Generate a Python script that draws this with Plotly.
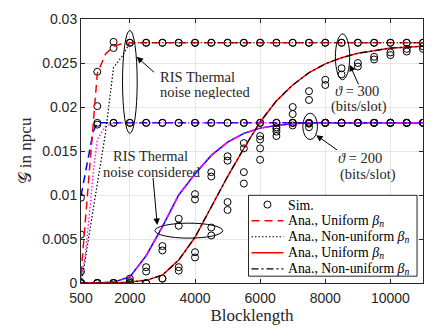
import plotly.graph_objects as go

# ---------------- data ----------------
blocklength = [500, 1000, 1500, 2000, 2500, 3000, 3500, 4000, 4500, 5000, 5500,
               6000, 6500, 7000, 7500, 8000, 8500, 9000, 9500, 10000, 10500, 11000]

# finer grid for the "thermal noise neglected" analytical curves
blocklength_fine = [500, 625, 750, 875, 1000, 1250, 1500, 1750, 2000, 2500, 3000, 3500,
                    4000, 4500, 5000, 5500, 6000, 6500, 7000, 7500, 8000, 8500, 9000,
                    9500, 10000, 10500, 11000]

# Analytical, RIS thermal noise neglected
ana_neg_300_uni = [0.0010, 0.0068, 0.0125, 0.0182, 0.0238, 0.0260, 0.0269, 0.0272, 0.0273,
                   0.0273, 0.0273, 0.0273, 0.0273, 0.0273, 0.0273, 0.0273, 0.0273, 0.0273,
                   0.0273, 0.0273, 0.0273, 0.0273, 0.0273, 0.0273, 0.0273, 0.0273, 0.0273]
ana_neg_300_non = [0.0000, 0.0025, 0.0055, 0.0085, 0.0112, 0.0170, 0.0245, 0.0257, 0.0273,
                   0.0273, 0.0273, 0.0273, 0.0273, 0.0273, 0.0273, 0.0273, 0.0273, 0.0273,
                   0.0273, 0.0273, 0.0273, 0.0273, 0.0273, 0.0273, 0.0273, 0.0273, 0.0273]
ana_neg_200_uni = [0.0099, 0.0122, 0.0146, 0.0172, 0.0182, 0.0182, 0.0182, 0.0182, 0.0182,
                   0.0182, 0.0182, 0.0182, 0.0182, 0.0182, 0.0182, 0.0182, 0.0182, 0.0182,
                   0.0182, 0.0182, 0.0182, 0.0182, 0.0182, 0.0182, 0.0182, 0.0182, 0.0182]
ana_neg_200_non = [0.0006, 0.0030, 0.0075, 0.0125, 0.0163, 0.0178, 0.0182, 0.0182, 0.0182,
                   0.0182, 0.0182, 0.0182, 0.0182, 0.0182, 0.0182, 0.0182, 0.0182, 0.0182,
                   0.0182, 0.0182, 0.0182, 0.0182, 0.0182, 0.0182, 0.0182, 0.0182, 0.0182]

# Analytical, RIS thermal noise considered
ana_con_300_uni = [0.0, 0.0, 0.0, 0.0001, 0.0003, 0.0009, 0.0026, 0.0052, 0.0087, 0.0121, 0.0153,
                   0.0183, 0.0207, 0.0225, 0.0239, 0.0249, 0.0256, 0.0261, 0.0264, 0.0267, 0.0268, 0.0269]
ana_con_300_non = [0.0, 0.0, 0.0, 0.0001, 0.0003, 0.0009, 0.0026, 0.0052, 0.0087, 0.0121, 0.0153,
                   0.0183, 0.0207, 0.0225, 0.0239, 0.0249, 0.0256, 0.0261, 0.0264, 0.0267, 0.0268, 0.0269]
ana_con_200_uni = [0.0, 0.0, 0.0001, 0.0007, 0.0031, 0.0064, 0.0100, 0.0124, 0.0145, 0.0160, 0.0170,
                   0.0176, 0.0179, 0.0181, 0.0182, 0.0182, 0.0182, 0.0182, 0.0182, 0.0182, 0.0182, 0.0182]
ana_con_200_non = [0.0, 0.0, 0.0001, 0.0007, 0.0031, 0.0064, 0.0100, 0.0124, 0.0145, 0.0160, 0.0170,
                   0.0176, 0.0179, 0.0181, 0.0182, 0.0182, 0.0182, 0.0182, 0.0182, 0.0182, 0.0182, 0.0182]

# Simulation points
sim_neg_300_uni = [0.0055, 0.0240, 0.0274, 0.0273, 0.0273, 0.0273, 0.0273, 0.0273, 0.0273, 0.0273, 0.0273,
                   0.0273, 0.0273, 0.0273, 0.0273, 0.0273, 0.0273, 0.0273, 0.0273, 0.0273, 0.0273, 0.0273]
sim_neg_300_non = [0.0000, 0.0201, 0.0267, 0.0273, 0.0273, 0.0273, 0.0273, 0.0273, 0.0273, 0.0273, 0.0273,
                   0.0273, 0.0273, 0.0273, 0.0273, 0.0273, 0.0273, 0.0273, 0.0273, 0.0273, 0.0273, 0.0273]
sim_neg_200_uni = [0.0097, 0.0182, 0.0182, 0.0182, 0.0182, 0.0182, 0.0182, 0.0182, 0.0182, 0.0182, 0.0182,
                   0.0182, 0.0182, 0.0182, 0.0182, 0.0182, 0.0182, 0.0182, 0.0182, 0.0182, 0.0182, 0.0182]
sim_neg_200_non = [0.0013, 0.0180, 0.0182, 0.0182, 0.0182, 0.0182, 0.0182, 0.0182, 0.0182, 0.0182, 0.0182,
                   0.0182, 0.0182, 0.0182, 0.0182, 0.0182, 0.0182, 0.0182, 0.0182, 0.0182, 0.0182, 0.0182]
sim_con_200_uni = [0.0, 0.0, 0.0, 0.0005, 0.0018, 0.0042, 0.0073, 0.0101, 0.0126, 0.0144, 0.0159,
                   0.0167, 0.0177, 0.0182, 0.0181, 0.0182, 0.0182, 0.0182, 0.0182, 0.0182, 0.0182, 0.0182]
sim_con_200_non = [0.0, 0.0, 0.0, 0.0002, 0.0013, 0.0037, 0.0065, 0.0095, 0.0121, 0.0139, 0.0153,
                   0.0163, 0.0175, 0.0179, 0.0177, 0.0182, 0.0182, 0.0182, 0.0182, 0.0182, 0.0182, 0.0182]
sim_con_300_uni = [0.0, 0.0, 0.0, 0.0, 0.0, 0.0005, 0.0018, 0.0035, 0.0063, 0.0092, 0.0126,
                   0.0153, 0.0172, 0.0200, 0.0218, 0.0231, 0.0244, 0.0250, 0.0257, 0.0262, 0.0266, 0.0269]
sim_con_300_non = [0.0, 0.0, 0.0, 0.0, 0.0, 0.0005, 0.0014, 0.0029, 0.0054, 0.0083, 0.0113,
                   0.0140, 0.0167, 0.0192, 0.0208, 0.0225, 0.0237, 0.0246, 0.0254, 0.0259, 0.0263, 0.0266]

x_ticks = [500, 2000, 4000, 6000, 8000, 10000]
y_ticks = [0, 0.005, 0.01, 0.015, 0.02, 0.025, 0.03]
y_tick_labels = ["0", "0.005", "0.01", "0.015", "0.02", "0.025", "0.03"]

legend_labels = ["Sim.",
                 "Ana., Uniform <i>β</i><sub><i>n</i></sub>",
                 "Ana., Non-uniform <i>β</i><sub><i>n</i></sub>",
                 "Ana., Uniform <i>β</i><sub><i>n</i></sub>",
                 "Ana., Non-uniform <i>β</i><sub><i>n</i></sub>"]

SERIF = "Liberation Serif"
SANS = "Liberation Sans"
TXT = "#262626"

# layout geometry (pixels)
W, H = 435, 329
ML, MR, MT, MB = 81, 11, 12, 46
PW, PH = W - ML - MR, H - MT - MB

def px(xp):
    return (xp - ML) / PW

def py(yp):
    return (H - MB - yp) / PH

fig = go.Figure()

sims = [sim_neg_300_uni, sim_neg_300_non, sim_neg_200_uni, sim_neg_200_non,
        sim_con_200_uni, sim_con_200_non, sim_con_300_uni, sim_con_300_non]

styles = {
    "blue_dash": dict(color="#0000ff", width=1.5, dash="8px,5px"),
    "mag_dot": dict(color="#ff00ff", width=1.3, dash="1.5px,2px"),
    "blue_solid": dict(color="#0000ff", width=1.5),
    "mag_dashdot": dict(color="#ff00ff", width=1.5, dash="7px,3px,2px,3px"),
    "red_dash": dict(color="#ff0000", width=1.5, dash="8px,5px"),
    "black_dot": dict(color="black", width=1.2, dash="1.5px,2px"),
    "red_solid": dict(color="#ff0000", width=1.5),
    "black_dashdot": dict(color="black", width=1.2, dash="7px,3px,2px,3px"),
}

# ϑ = 200 curves
fig.add_trace(go.Scatter(x=blocklength_fine, y=ana_neg_200_uni, mode="lines", line=styles["blue_dash"]))
fig.add_trace(go.Scatter(x=blocklength_fine, y=ana_neg_200_non, mode="lines", line=styles["mag_dot"]))
fig.add_trace(go.Scatter(x=blocklength, y=ana_con_200_uni, mode="lines", line=styles["blue_solid"]))
fig.add_trace(go.Scatter(x=blocklength, y=ana_con_200_non, mode="lines", line=styles["mag_dashdot"]))

for s in sims:
    fig.add_trace(go.Scatter(x=blocklength, y=s, mode="markers", name="Sim.",
                             marker=dict(symbol="circle-open", size=7, color="black",
                                         line=dict(width=1, color="black"))))

# ϑ = 300 curves
fig.add_trace(go.Scatter(x=blocklength_fine, y=ana_neg_300_uni, mode="lines", line=styles["red_dash"],
                         name=legend_labels[1]))
fig.add_trace(go.Scatter(x=blocklength_fine, y=ana_neg_300_non, mode="lines", line=styles["black_dot"],
                         name=legend_labels[2]))
fig.add_trace(go.Scatter(x=blocklength, y=ana_con_300_uni, mode="lines", line=styles["red_solid"],
                         name=legend_labels[3]))
fig.add_trace(go.Scatter(x=blocklength, y=ana_con_300_non, mode="lines", line=styles["black_dashdot"],
                         name=legend_labels[4]))

# ellipses
ellipses = [
    (1775, 2225, 0.0170, 0.0287),
    (2770, 4850, 0.0051, 0.0068),
    (8310, 8750, 0.0231, 0.0283),
    (7310, 7760, 0.0163, 0.0193),
]
for x0, x1, y0, y1 in ellipses:
    fig.add_shape(type="circle", xref="x", yref="y", x0=x0, x1=x1, y0=y0, y1=y1,
                  line=dict(color="black", width=1))

def arrow(x, y, ax, ay):
    fig.add_annotation(x=x, y=y, ax=ax, ay=ay, xref="x", yref="y", axref="x", ayref="y",
                       text="", showarrow=True, arrowhead=2, arrowsize=1.3, arrowwidth=1,
                       arrowcolor="black")

arrow(2207, 0.0257, 2790, 0.0238)
arrow(2840, 0.0066, 2708, 0.0121)
arrow(8750, 0.0248, 9040, 0.0224)
arrow(7720, 0.0168, 8410, 0.0150)

def label(x, y, text, xanchor="center"):
    fig.add_annotation(x=x, y=y, xref="x", yref="y", text=text, showarrow=False,
                       xanchor=xanchor, yanchor="middle", height=15, valign="middle",
                       font=dict(family=SERIF, size=14.5, color=TXT))

label(2862, 0.02348, "RIS Thermal", "left")
label(2862, 0.02181, "noise neglected", "left")
label(2631, 0.01444, "RIS Thermal")
label(2694, 0.01267, "noise considered")
label(8971, 0.02192, "<i>ϑ</i> = 300")
label(9026, 0.02006, "(bits/slot)")
label(9077, 0.01422, "<i>ϑ</i> = 200")
label(9302, 0.01237, "(bits/slot)")

# ---- legend box (drawn with paper-referenced shapes) ----
LX0, LX1, LY0, LY1 = 249, 418, 193, 276
fig.add_shape(type="rect", xref="paper", yref="paper", x0=px(LX0), x1=px(LX1),
              y0=py(LY1), y1=py(LY0), line=dict(color=TXT, width=1), fillcolor="white", layer="above")
row_y = [202.5, 219, 235.5, 252, 268.5]
sample_styles = [None, styles["red_dash"], styles["black_dot"], styles["red_solid"], styles["black_dashdot"]]
for ry, lab, st in zip(row_y, legend_labels, sample_styles):
    if st is None:
        fig.add_shape(type="circle", xref="paper", yref="paper", xsizemode="pixel", ysizemode="pixel",
                      xanchor=px(268), yanchor=py(ry), x0=-3.5, x1=3.5, y0=-3.5, y1=3.5,
                      line=dict(color="black", width=1), layer="above")
    else:
        fig.add_shape(type="line", xref="paper", yref="paper", x0=px(252), x1=px(284),
                      y0=py(ry), y1=py(ry), line=st, layer="above")
    fig.add_annotation(x=px(287), y=py(ry), xref="paper", yref="paper", text=lab,
                       showarrow=False, xanchor="left", yanchor="middle", height=16, valign="middle",
                       font=dict(family=SERIF, size=13.8, color="black"))

axis_common = dict(showline=True, mirror="ticks", linecolor=TXT, linewidth=1,
                   ticks="inside", ticklen=4, tickcolor=TXT, showgrid=True,
                   gridcolor="#e6e6e6", gridwidth=1, zeroline=False,
                   tickfont=dict(family=SANS, size=14, color=TXT))

fig.update_layout(
    width=W, height=H,
    margin=dict(l=ML, r=MR, t=MT, b=MB),
    paper_bgcolor="white", plot_bgcolor="white",
    xaxis=dict(range=[500, 11000], tickvals=x_ticks,
               ticktext=[str(v) for v in x_ticks], ticklabelstandoff=2,
               title=dict(text="Blocklength", font=dict(family=SERIF, size=17, color=TXT), standoff=0),
               **axis_common),
    yaxis=dict(range=[0, 0.03], tickvals=y_ticks, ticktext=y_tick_labels,
               title=dict(text="𝒢 in npcu", font=dict(family=SERIF, size=17, color=TXT), standoff=6),
               **axis_common),
    showlegend=False,
)

fig.write_html("out.html")
